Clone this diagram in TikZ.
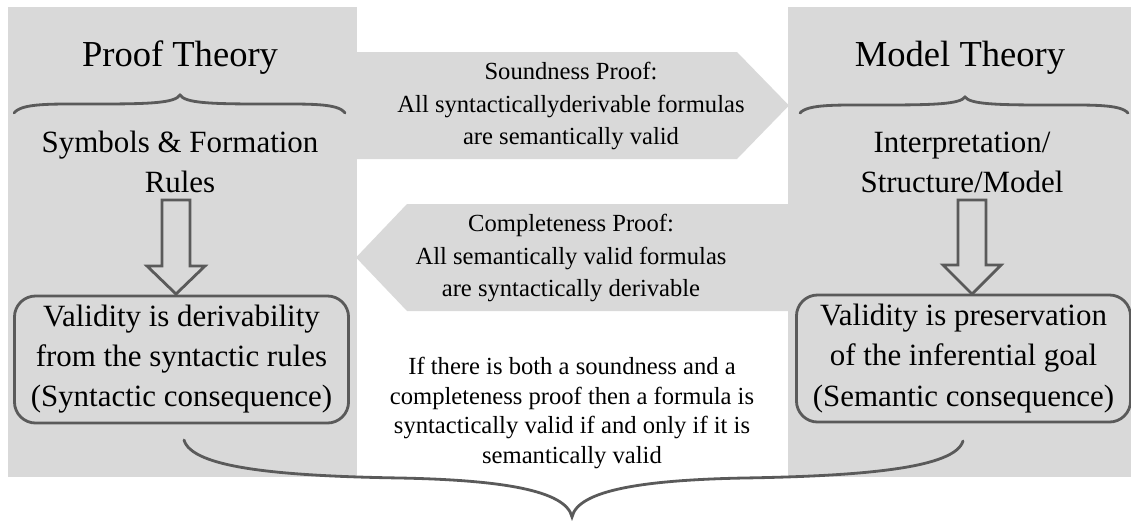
\documentclass[tikz,border=0pt]{standalone}
\usepackage{fontspec}
\setmainfont{Liberation Serif}
\usetikzlibrary{
    positioning,
    calc
}
\definecolor{panel}{HTML}{D9D9D9}
\definecolor{edge}{HTML}{5A5A5A}
\tikzset{
    % Grey column behind each theory
    panel box/.style={
        fill=panel,
        draw=none
    },
    % Column heading
    theory title/.style={
        font=\fontsize{26}{31}\selectfont,
        align=center
    },
    % Text under the brace
    sub text/.style={
        font=\fontsize{22}{28.5}\selectfont,
        align=center
    },
    % Rounded validity box
    validity/.style={
        rectangle,
        rounded corners=15pt,
        minimum width=8.35cm,
        minimum height=3.175cm,
        inner sep=0pt,
        align=center,
        font=\fontsize{22}{28.5}\selectfont,
        draw=edge,
        fill=panel,
        line width=2pt
    },
    % Big grey arrow carrying a proof
    proof arrow/.style={
        fill=panel,
        draw=none
    },
    arrow text/.style={
        align=center,
        inner sep=0pt,
        font=\fontsize{17.5}{23.4}\selectfont
    },
    % Hollow block arrow
    hollow/.style={
        draw=edge,
        fill=panel,
        line width=2pt,
        line join=miter
    },
    % Curly braces
    brace line/.style={
        draw=edge,
        line width=2pt,
        line cap=round
    },
    % Note in the middle
    note text/.style={
        font=\fontsize{17.5}{21.3}\selectfont,
        align=center
    }
}

\begin{document}
\begin{tikzpicture}[x=0.025cm, y=-0.025cm]
    \useasboundingbox (0,0) rectangle (1131,520);

    % Columns
    \fill[panel box] (8,7) rectangle (357,477);
    \fill[panel box] (788,7) rectangle (1131,477);

    % Proof arrows
    \fill[proof arrow] (356,52) -- (737,52) -- (789,105.5) -- (737,159) -- (356,159) -- cycle;
    \fill[proof arrow] (790,204) -- (407,204) -- (356,257.5) -- (407,311) -- (790,311) -- cycle;
    \node[arrow text] (sound) at (571,106) {Soundness Proof:\\All syntacticallyderivable formulas\\are semantically valid};
    \node[arrow text] (complete) at (571,258) {Completeness Proof:\\All semantically valid formulas\\are syntactically derivable};

    % Headings
    \node[theory title] (proofT) at (180,58) {Proof Theory};
    \node[theory title] (modelT) at (960,58) {Model Theory};

    % Braces under headings
    \draw[brace line] (14,113) .. controls (22,103) and (50,104) .. (97,104)
        .. controls (150,104) and (175,103) .. (180,95)
        .. controls (185,103) and (210,104) .. (263,104)
        .. controls (310,104) and (338,103) .. (345,113);
    \draw[brace line] (800,113) .. controls (808,104) and (836,105) .. (882,105)
        .. controls (935,105) and (960,104) .. (965,97)
        .. controls (970,104) and (995,105) .. (1046,105)
        .. controls (1092,105) and (1120,104) .. (1128,113);

    % Sub headings
    \node[sub text] (symbols) at (180,162) {Symbols \& Formation\\Rules};
    \node[sub text] (interp) at (962,162) {Interpretation/\\Structure/Model};

    % Validity boxes
    \node[validity] (syntactic) at (181.5,359.5) {Validity is derivability\\from the syntactic rules\\(Syntactic consequence)};
    \node[validity] (semantic) at (963.5,358.5) {Validity is preservation\\of the inferential goal\\(Semantic consequence)};

    % Hollow arrows
    \coordinate (tipL) at (176,294);
    \coordinate (tipR) at (972,294);
    \draw[hollow] (tipL) -- ++(-29,-28) -- ++(15,0) -- ++(0,-66) -- ++(28,0)
        -- ++(0,66) -- ++(15,0) -- cycle;
    \draw[hollow] (tipR) -- ++(-29,-29) -- ++(15,0) -- ++(0,-65) -- ++(28,0)
        -- ++(0,65) -- ++(15,0) -- cycle;

    % Note
    \node[note text] (note) at (572,413) {If there is both a soundness and a\\completeness proof then a formula is\\syntactically valid if and only if it is\\semantically valid};

    % Brace at the bottom
    \draw[brace line] (184,440) .. controls (192,468) and (280,476) .. (400,478)
        .. controls (500,480) and (566,490) .. (572,517)
        .. controls (578,490) and (644,480) .. (744,478)
        .. controls (864,476) and (955,468) .. (963,441);
\end{tikzpicture}
\end{document}
